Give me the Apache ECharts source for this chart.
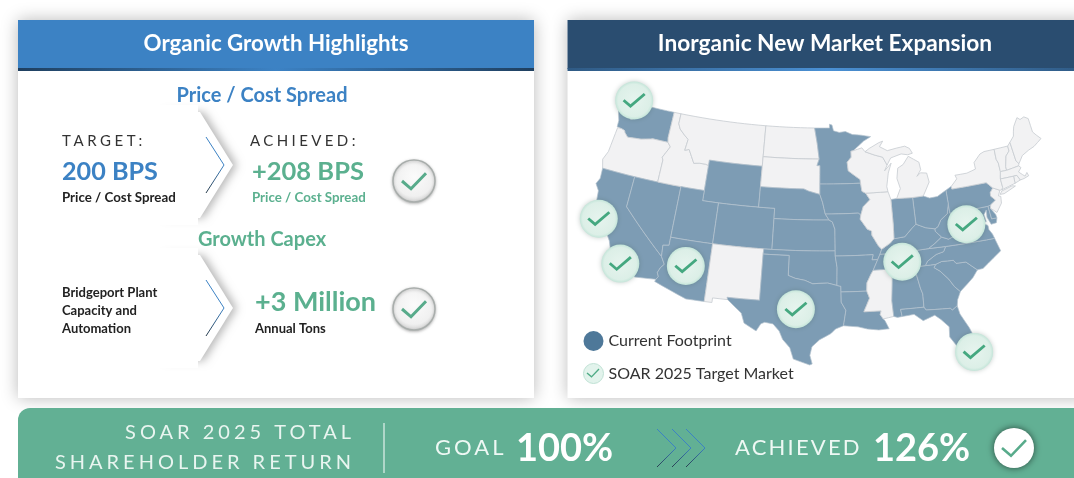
<!DOCTYPE html>
<html>
<head>
<meta charset="utf-8">
<style>html,body{margin:0;padding:0;background:#fff}#main{width:1074px;height:478px}</style>
<script src="https://cdn.jsdelivr.net/npm/echarts@6/dist/echarts.min.js"></script>
</head>
<body>
<div id="main"></div>
<script>
//chart values
var footprintStates=["WA","CA","NV","UT","AZ","CO","WY","NE","KS","OK","TX","MN","IA","MO","AR","LA","AL","GA","FL","SC","NC","TN","KY","VA","WV","MD","DE","PA","OH","IN"];
var targetMarkets=[[-122.9,49.2],[-122.8,37.2],[-119.0,33.5],[-111.7,34.5],[-99.0,31.3],[-86.9,35.6],[-78.8,38.4],[-80.5,26.0]];
var legendNames=["Current Footprint","SOAR 2025 Target Market"];
var organicTexts=["Price / Cost Spread","TARGET:","200 BPS","ACHIEVED:","+208 BPS","Growth Capex","+3 Million","Annual Tons"];
var capexLines=["Bridgeport Plant","Capacity and","Automation"];
var returnTexts=["SOAR 2025 TOTAL","SHAREHOLDER RETURN","GOAL","100%","ACHIEVED","126%"];

//state outlines, lon/lat
var stateRings={
WA:[[[-124.73,48.38],[-123.1,48.17],[-122.75,48.1],[-122.6,47.3],[-122.3,47.4],[-122.4,48.3],[-122.75,49],[-117.03,49],[-117.04,46.42],[-116.92,45.99],[-118.98,46],[-119.3,45.93],[-120.5,45.7],[-121.2,45.65],[-122.3,45.55],[-122.8,45.9],[-122.95,46.1],[-123.4,46.2],[-124.05,46.27],[-124.1,46.9],[-124.6,47.9]]],
OR:[[[-123.95,46.2],[-124.05,46.27],[-123.4,46.2],[-122.95,46.1],[-122.8,45.9],[-122.3,45.55],[-121.2,45.65],[-120.5,45.7],[-119.3,45.93],[-118.98,46],[-116.92,45.99],[-116.47,45.6],[-116.85,45],[-117.2,44.45],[-117.03,44.2],[-117.03,42],[-120,42],[-124.2,42],[-124.55,42.84],[-124.15,43.7],[-124.05,45]]],
CA:[[[-124.2,42],[-120,42],[-120,39],[-114.63,35],[-114.14,34.3],[-114.5,33.9],[-114.72,33.4],[-114.52,33.03],[-114.72,32.72],[-117.12,32.53],[-117.25,32.85],[-117.9,33.6],[-118.4,33.75],[-118.5,34.03],[-119.2,34.15],[-119.6,34.42],[-120.47,34.45],[-120.65,34.9],[-120.9,35.4],[-121.9,36.6],[-122,36.95],[-122.5,37.5],[-122.5,37.8],[-123,38],[-123.7,38.9],[-123.85,39.8],[-124.4,40.4],[-124.1,41]]],
NV:[[[-120,42],[-117.03,42],[-114.04,42],[-114.04,36.2],[-114.74,36.1],[-114.63,35],[-120,39]]],
ID:[[[-117.03,49],[-116.05,49],[-116.05,48],[-115.7,47.5],[-114.95,47],[-114.35,46.65],[-114.5,45.55],[-113.95,45.7],[-113.45,45.05],[-113,44.45],[-112.3,44.55],[-111.5,44.55],[-111.05,44.47],[-111.05,42],[-114.04,42],[-117.03,42],[-117.03,44.2],[-117.2,44.45],[-116.85,45],[-116.47,45.6],[-116.92,45.99],[-117.04,46.42]]],
MT:[[[-116.05,49],[-104.05,49],[-104.05,45.94],[-104.05,45],[-111.05,45],[-111.05,44.47],[-111.5,44.55],[-112.3,44.55],[-113,44.45],[-113.45,45.05],[-113.95,45.7],[-114.5,45.55],[-114.35,46.65],[-114.95,47],[-115.7,47.5],[-116.05,48]]],
WY:[[[-111.05,45],[-104.05,45],[-104.05,43],[-104.05,41],[-111.05,41],[-111.05,42]]],
UT:[[[-114.04,42],[-111.05,42],[-111.05,41],[-109.05,41],[-109.05,37],[-114.04,37]]],
CO:[[[-109.05,41],[-104.05,41],[-102.05,41],[-102.05,40],[-102.05,37],[-103,37],[-109.05,37]]],
AZ:[[[-114.04,37],[-109.05,37],[-109.05,31.33],[-111.07,31.33],[-114.81,32.5],[-114.72,32.72],[-114.52,33.03],[-114.72,33.4],[-114.5,33.9],[-114.14,34.3],[-114.63,35],[-114.74,36.1],[-114.04,36.2]]],
NM:[[[-109.05,37],[-103,37],[-103.04,36.5],[-103.04,32],[-106.62,32],[-106.53,31.78],[-108.2,31.78],[-108.2,31.33],[-109.05,31.33]]],
ND:[[[-104.05,49],[-97.23,49],[-96.85,47.5],[-96.56,45.94],[-104.05,45.94]]],
SD:[[[-104.05,45.94],[-96.56,45.94],[-96.85,45.3],[-96.45,45.3],[-96.45,43.5],[-96.45,42.49],[-97.9,42.8],[-98.5,43],[-104.05,43]]],
NE:[[[-104.05,43],[-98.5,43],[-97.9,42.8],[-96.45,42.49],[-96.1,41.7],[-95.77,40.58],[-95.31,40],[-102.05,40],[-102.05,41],[-104.05,41]]],
KS:[[[-102.05,40],[-95.31,40],[-94.9,39.8],[-94.61,39.1],[-94.62,37],[-100,37],[-102.05,37]]],
OK:[[[-103,37],[-102.05,37],[-94.62,37],[-94.62,36.5],[-94.43,35.4],[-94.48,33.64],[-95.5,33.88],[-96.6,33.85],[-97.2,33.8],[-98.1,34.13],[-99.2,34.3],[-100,34.56],[-100,36.5],[-103.04,36.5]]],
TX:[[[-106.62,32],[-103.04,32],[-103.04,36.5],[-100,36.5],[-100,34.56],[-99.2,34.3],[-98.1,34.13],[-97.2,33.8],[-96.6,33.85],[-95.5,33.88],[-94.48,33.64],[-94.04,33.55],[-94.04,33],[-94.04,32],[-93.55,31.2],[-93.85,29.7],[-94.7,29.4],[-95.2,28.95],[-96.4,28.35],[-97.2,27.65],[-97.4,26.8],[-97.15,25.96],[-97.4,25.85],[-99.1,26.4],[-99.5,27.5],[-100.3,28.3],[-100.7,29.1],[-101.4,29.77],[-102.3,29.88],[-102.7,29.7],[-103.15,28.98],[-104.5,29.65],[-104.9,30.6],[-106.53,31.78]]],
MN:[[[-97.23,49],[-95.15,49],[-95.15,49.38],[-94.8,49.3],[-94.6,48.72],[-93.8,48.55],[-92.95,48.62],[-92,48.3],[-90.8,48.2],[-89.5,48],[-90.5,47.6],[-92,46.7],[-92.29,46.66],[-92.29,46.07],[-92.85,45.6],[-92.75,44.75],[-91.25,43.85],[-91.22,43.5],[-96.45,43.5],[-96.45,45.3],[-96.85,45.3],[-96.56,45.94],[-96.85,47.5]]],
IA:[[[-96.45,43.5],[-91.22,43.5],[-91.1,42.7],[-90.64,42.5],[-90.15,41.85],[-91.05,41.2],[-91.4,40.4],[-91.7,40.6],[-95.77,40.58],[-96.1,41.7],[-96.45,42.49]]],
MO:[[[-95.77,40.58],[-91.7,40.6],[-91.4,40.4],[-91.5,40],[-90.7,39],[-90.2,38.8],[-90.2,38.4],[-89.5,37.3],[-89.15,36.98],[-89.4,36.5],[-89.7,36],[-90.37,36],[-90.2,36.5],[-94.62,36.5],[-94.62,37],[-94.61,39.1],[-94.9,39.8],[-95.31,40]]],
AR:[[[-94.62,36.5],[-90.2,36.5],[-90.37,36],[-89.7,36],[-90.3,35],[-90.6,34.6],[-91.1,33.8],[-91.17,33],[-94.04,33],[-94.04,33.55],[-94.48,33.64],[-94.43,35.4]]],
LA:[[[-94.04,33],[-91.17,33],[-90.9,32.3],[-91.6,31],[-89.73,31],[-89.85,30.65],[-89.55,30.2],[-89.4,30.05],[-89,29.2],[-90.1,29.15],[-91.3,29.3],[-92.3,29.55],[-93.85,29.7],[-93.55,31.2],[-94.04,32]]],
MS:[[[-91.17,33],[-91.1,33.8],[-90.6,34.6],[-90.3,35],[-88.2,35],[-88.1,34.9],[-88.47,31.9],[-88.4,30.37],[-89.55,30.2],[-89.85,30.65],[-89.73,31],[-91.6,31],[-90.9,32.3]]],
AL:[[[-88.2,35],[-85.6,35],[-85.18,32.87],[-85,32.3],[-85.05,31],[-87.6,31],[-87.5,30.3],[-88,30.25],[-88.4,30.37],[-88.47,31.9],[-88.1,34.9]]],
GA:[[[-85.6,35],[-84.32,35],[-83.11,35],[-83.35,34.7],[-82.75,34.3],[-81.9,33.4],[-81.4,32.6],[-80.85,32.05],[-81.3,31.3],[-81.45,30.72],[-82.05,30.37],[-82.2,30.57],[-84.86,30.7],[-85.05,31],[-85,32.3],[-85.18,32.87]]],
FL:[[[-87.6,31],[-85.05,31],[-84.86,30.7],[-82.2,30.57],[-82.05,30.37],[-81.45,30.72],[-81.3,29.9],[-80.55,28.4],[-80.05,26.9],[-80.15,25.75],[-80.4,25.2],[-81.1,25.13],[-81.8,26.1],[-82.2,26.9],[-82.75,27.8],[-82.65,28.8],[-83.4,29.6],[-84,30.1],[-85.3,29.7],[-86.2,30.4],[-87.5,30.3]]],
SC:[[[-83.35,34.7],[-83.11,35],[-82.4,35.2],[-81.05,35.15],[-80.8,34.82],[-79.67,34.8],[-78.55,33.86],[-79.2,33.2],[-79.9,32.7],[-80.85,32.05],[-81.4,32.6],[-81.9,33.4],[-82.75,34.3]]],
NC:[[[-84.32,35],[-84,35.4],[-82.9,35.95],[-82,36.12],[-81.68,36.59],[-75.87,36.55],[-75.5,35.25],[-76.5,34.7],[-77.9,33.9],[-78.55,33.86],[-79.67,34.8],[-80.8,34.82],[-81.05,35.15],[-82.4,35.2],[-83.11,35]]],
TN:[[[-90.3,35],[-88.2,35],[-85.6,35],[-84.32,35],[-84,35.4],[-82.9,35.95],[-82,36.12],[-81.68,36.59],[-83.68,36.6],[-88.07,36.5],[-89.4,36.5],[-89.7,36]]],
KY:[[[-89.4,36.5],[-88.07,36.5],[-83.68,36.6],[-82.9,37],[-81.97,37.54],[-82.6,38.17],[-82.6,38.42],[-83.7,38.65],[-84.8,39.1],[-85.4,38.7],[-86.3,38],[-87.6,37.9],[-88.1,37.5],[-89.15,36.98]]],
VA:[[[-83.68,36.6],[-81.68,36.59],[-75.87,36.55],[-76,37],[-76.3,37.5],[-76.3,37.9],[-77,38.3],[-77.05,38.8],[-77.5,39.1],[-77.83,39.13],[-78.35,39.4],[-78.87,38.76],[-79.65,38.58],[-80.3,37.5],[-81.2,37.25],[-81.97,37.54],[-82.9,37]]],
WV:[[[-81.97,37.54],[-81.2,37.25],[-80.3,37.5],[-79.65,38.58],[-78.87,38.76],[-78.35,39.4],[-77.83,39.13],[-77.72,39.32],[-78.4,39.62],[-79.05,39.47],[-79.48,39.2],[-79.48,39.72],[-80.52,39.72],[-80.52,40.64],[-80.85,39.7],[-81.75,39.2],[-82.2,38.6],[-82.6,38.42],[-82.6,38.17]]],
MD:[[[-79.48,39.72],[-75.79,39.72],[-75.7,38.46],[-75.05,38.45],[-75.25,38],[-75.9,37.95],[-76.2,38.7],[-76.1,39.4],[-76.5,39],[-76.4,38.3],[-77,38.3],[-77.05,38.8],[-77.5,39.1],[-77.72,39.32],[-78.4,39.62],[-79.05,39.47],[-79.48,39.2]]],
DE:[[[-75.79,39.72],[-75.42,39.8],[-75.55,39.45],[-75.1,38.8],[-75.05,38.45],[-75.7,38.46]]],
PA:[[[-80.52,41.98],[-79.76,42.27],[-79.76,42],[-75.35,42],[-74.7,41.36],[-75.13,40.98],[-75.2,40.65],[-74.72,40.15],[-75.42,39.8],[-75.79,39.72],[-79.48,39.72],[-80.52,39.72],[-80.52,40.64]]],
NJ:[[[-74.7,41.36],[-73.9,41],[-74.25,40.5],[-73.98,40.4],[-74.1,39.75],[-74.9,38.95],[-75.55,39.5],[-75.42,39.8],[-74.72,40.15],[-75.2,40.65],[-75.13,40.98]]],
NY:[[[-79.76,42],[-79.76,42.27],[-78.9,42.9],[-79.05,43.27],[-77.5,43.27],[-76.3,43.5],[-76.3,44.15],[-75.3,44.85],[-74.7,45],[-73.34,45],[-73.4,44],[-73.25,43.6],[-73.27,42.75],[-73.5,42.05],[-73.48,41.2],[-73.65,41],[-73.9,41],[-74.7,41.36],[-75.35,42]],[[-74,40.6],[-73.7,40.88],[-72.3,41.15],[-71.9,41.05],[-73.5,40.58]]],
VT:[[[-73.34,45],[-71.5,45],[-71.5,44.5],[-72.05,44.1],[-72.45,43.1],[-72.46,42.73],[-73.27,42.75],[-73.25,43.6],[-73.4,44]]],
NH:[[[-71.5,45],[-71.08,45.3],[-70.98,43.4],[-70.7,43.07],[-70.82,42.87],[-72.46,42.73],[-72.45,43.1],[-72.05,44.1],[-71.5,44.5]]],
ME:[[[-71.08,45.3],[-70.4,45.8],[-70.25,46.2],[-70,46.7],[-69.23,47.46],[-68.9,47.2],[-68.3,47.35],[-67.8,47.07],[-67.8,45.7],[-67.45,45.3],[-67,44.85],[-68.2,44.3],[-69,44.1],[-70,43.75],[-70.7,43.07],[-70.98,43.4]]],
MA:[[[-73.5,42.05],[-73.27,42.75],[-72.46,42.73],[-70.82,42.87],[-70.6,42.65],[-71.05,42.3],[-70.65,41.95],[-70.4,41.75],[-70.05,42.05],[-69.95,41.7],[-70.6,41.55],[-71.12,41.5],[-71.38,42.02],[-71.8,42.02]]],
RI:[[[-71.8,42.02],[-71.38,42.02],[-71.12,41.5],[-71.85,41.32]]],
CT:[[[-73.5,42.05],[-71.8,42.02],[-71.85,41.32],[-73.65,41],[-73.48,41.2]]],
OH:[[[-84.8,41.7],[-83.45,41.73],[-82.7,41.45],[-81.7,41.5],[-80.52,41.98],[-80.52,40.64],[-80.85,39.7],[-81.75,39.2],[-82.2,38.6],[-82.6,38.42],[-83.7,38.65],[-84.8,39.1]]],
IN:[[[-87.53,41.72],[-86.8,41.76],[-84.8,41.7],[-84.8,39.1],[-85.4,38.7],[-86.3,38],[-87.6,37.9],[-87.53,39.3]]],
IL:[[[-90.64,42.5],[-87.8,42.5],[-87.53,41.72],[-87.53,39.3],[-87.6,37.9],[-88.1,37.5],[-89.15,36.98],[-89.5,37.3],[-90.2,38.4],[-90.2,38.8],[-90.7,39],[-91.5,40],[-91.4,40.4],[-91.05,41.2],[-90.15,41.85]]],
WI:[[[-92.29,46.66],[-92,46.7],[-90.8,46.95],[-90.4,46.55],[-89.1,46.15],[-88.1,45.9],[-87.6,45.1],[-88,44.55],[-87.05,45.25],[-87.55,44.3],[-87.9,43],[-87.8,42.5],[-90.64,42.5],[-91.1,42.7],[-91.22,43.5],[-91.25,43.85],[-92.75,44.75],[-92.85,45.6],[-92.29,46.07]]],
MI:[[[-90.4,46.55],[-89.8,46.85],[-88.45,47.35],[-87.9,47.47],[-88.4,46.95],[-87.4,46.5],[-86.1,46.67],[-85,46.77],[-84.4,46.5],[-84.1,46],[-84.75,45.9],[-85.6,46.05],[-86.6,45.85],[-87.05,45.75],[-87.6,45.1],[-88.1,45.9],[-89.1,46.15]],[[-84.8,41.7],[-83.45,41.73],[-83.15,42.1],[-82.45,43],[-82.6,43.9],[-83.4,44],[-83.9,43.7],[-83.3,44.3],[-83.4,45.05],[-84.7,45.75],[-85.5,45],[-86.25,44.7],[-86.5,43.7],[-86.2,42.7],[-86.8,41.76]]]
};

//long borders follow the curve of the projection, so add points along them
function densify(ring){
    var out=[];
    for(var i=0;i<ring.length;i++){
        var a=ring[i],b=ring[(i+1)%ring.length];
        var steps=Math.max(Math.ceil(Math.max(Math.abs(b[0]-a[0]),Math.abs(b[1]-a[1]))),1);
        for(var s=0;s<steps;s++){
            out.push([a[0]+(b[0]-a[0])*s/steps,a[1]+(b[1]-a[1])*s/steps]);
        }
    }
    out.push(out[0]);
    return out;
}
var usaGeo={type:"FeatureCollection",features:Object.keys(stateRings).map(function(name){
    return {type:"Feature",properties:{name:name},geometry:{type:"MultiPolygon",coordinates:stateRings[name].map(function(r){return [densify(r)];})}};
})};
echarts.registerMap("usa",usaGeo);

//albers conic
var rad=Math.PI/180,lon0=-96,n=(Math.sin(29.5*rad)+Math.sin(45.5*rad))/2;
var C=Math.pow(Math.cos(29.5*rad),2)+2*n*Math.sin(29.5*rad);
var rho0=Math.sqrt(C-2*n*Math.sin(37.5*rad))/n;
function project(p){
    var rho=Math.sqrt(C-2*n*Math.sin(p[1]*rad))/n,t=n*(p[0]-lon0)*rad;
    return [rho*Math.sin(t),rho*Math.cos(t)-rho0];
}
function unproject(p){
    var rho=Math.sqrt(p[0]*p[0]+(rho0+p[1])*(rho0+p[1])),t=Math.atan2(p[0],rho0+p[1]);
    return [lon0+t/n/rad,Math.asin((C-rho*rho*n*n)/(2*n))/rad];
}

//letter spaced labels (canvas only)
var spaced={"TARGET:":"3.6px","ACHIEVED:":"3.4px","SOAR 2025 TOTAL":"4px","SHAREHOLDER RETURN":"4px","GOAL":"3px","ACHIEVED":"2.2px"};
var rawFillText=CanvasRenderingContext2D.prototype.fillText;
CanvasRenderingContext2D.prototype.fillText=function(t,x,y,w){
    this.letterSpacing=spaced[t]||"0px";
    if(w===undefined){rawFillText.call(this,t,x,y);}else{rawFillText.call(this,t,x,y,w);}
};

var BLUE="#3c82c4",GREEN="#5bb08f",DARK="#2a4d70",BAR="#62b094",INK="#222222";
function txt(s,x,y,size,color,bold,align){
    return {type:"text",x:x,y:y+1.5,z:20,style:{text:s,fill:color,font:(bold?"bold ":"")+size+"px Lato",align:align||"left",verticalAlign:"middle",textAlign:align||"left",textVerticalAlign:"middle"}};
}
function hgrad(a,b){
    return {type:"linear",x:0,y:0,x2:1,y2:0,colorStops:[{offset:0,color:a},{offset:0.5,color:b},{offset:1,color:a}]};
}
function panel(x,w,head,strip,stripMid){
    return [
        {type:"rect",z:1,shape:{x:x,y:20,width:w,height:378},style:{fill:"#fff",shadowBlur:16,shadowColor:"rgba(0,0,0,0.28)"}},
        {type:"rect",z:2,shape:{x:x,y:20,width:w,height:49},style:{fill:head}},
        {type:"rect",z:2,shape:{x:x,y:68,width:w,height:3},style:{fill:hgrad(strip,stripMid)}}
    ];
}
function arrowShape(y){
    return [
        {type:"polygon",z:3,shape:{points:[[163,y-53],[200,y-53],[233,y],[200,y+53],[163,y+53]]},style:{fill:"#fff",shadowBlur:9,shadowOffsetX:4,shadowColor:"rgba(0,0,0,0.28)"}},
        //only the slanted sides keep a shadow
        {type:"rect",z:4,shape:{x:150,y:y-60,width:48,height:120},style:{fill:"#fff"}}
    ];
}
function chevron(x,y,w,h){
    return {type:"polyline",z:15,shape:{points:[[x,y-h],[x+w,y],[x,y+h]]},style:{fill:null,lineWidth:1,stroke:{type:"linear",x:0,y:0,x2:0,y2:1,colorStops:[{offset:0,color:"#3c82c4"},{offset:0.5,color:"#3c82c4"},{offset:1,color:"#26343f"}]}}};
}
function checkMark(x,y,s,color,w){
    return {type:"polyline",z:25,shape:{points:[[x-s,y],[x-s*0.25,y+s*0.65],[x+s,y-s*0.65]]},style:{fill:null,stroke:color,lineWidth:w}};
}
function badge(x,y){
    return [
        {type:"circle",z:16,shape:{cx:x,cy:y,r:21},style:{fill:{type:"radial",x:0.5,y:0.4,r:0.6,colorStops:[{offset:0,color:"#fbfbfb"},{offset:0.75,color:"#f0f0f0"},{offset:1,color:"#d2d2d2"}]},stroke:"#a9aeac",lineWidth:1.5,shadowBlur:3,shadowOffsetY:1,shadowColor:"rgba(0,0,0,0.25)"}},
        checkMark(x,y,12,"#58ab8b",3)
    ];
}

var graphicEls=[].concat(
    panel(18,516,BLUE,"#1f3f5f","#3c82c4"),
    panel(567.5,520,DARK,"#2f5a84","#4a90d4"),
    arrowShape(165),arrowShape(308),
    [
        {type:"rect",z:3,shape:{x:18,y:408,width:1070,height:90,r:12},style:{fill:BAR}},
        chevron(206,165,18,28),chevron(206,308,18,28),
        txt("Organic Growth Highlights",276,42,22.3,"#fff",true,"center"),
        txt("Inorganic New Market Expansion",825,42,22.7,"#fff",true,"center"),
        txt(organicTexts[0],262,94,20,BLUE,true,"center"),
        txt(organicTexts[1],62,140,15,"#333",false),
        txt(organicTexts[2],62,170,25.2,BLUE,true),
        txt(organicTexts[0],62,196,13.3,INK,true),
        txt(organicTexts[3],250,140,15,"#333",false),
        txt(organicTexts[4],252,170,25.5,GREEN,true),
        txt(organicTexts[0],252,196,13.3,GREEN,true),
        txt(organicTexts[5],262,238,20,GREEN,true,"center"),
        txt(capexLines[0],62,291,13,INK,true),
        txt(capexLines[1],62,309,13,INK,true),
        txt(capexLines[2],62,327,13,INK,true),
        txt(organicTexts[6],255,301,27,GREEN,true),
        txt(organicTexts[7],255,327,13,INK,true),
        txt(returnTexts[0],355,431,20,"#e9f5f0",false,"right"),
        txt(returnTexts[1],355,461,20,"#e9f5f0",false,"right"),
        {type:"line",z:15,shape:{x1:384,y1:423,x2:384,y2:473},style:{stroke:"#e3f2ec",lineWidth:1.2}},
        txt(returnTexts[2],435,446,22,"#eef8f4",false),
        txt(returnTexts[3],516,447,38,"#fff",true),
        chevron(657,448,19,19),chevron(672,448,19,19),chevron(686,448,19,19),
        txt(returnTexts[4],735,446,22,"#eef8f4",false),
        txt(returnTexts[5],873,447,38,"#fff",true),
        {type:"circle",z:16,shape:{cx:1014,cy:448,r:20},style:{fill:"#fff",shadowBlur:7,shadowColor:"rgba(0,0,0,0.6)"}},
        checkMark(1014,448,12,"#58ab8b",2.6),
        checkMark(593,373,6,"#4fab86",1.4)
    ],
    badge(414,181),badge(414,309)
);

var mychart=echarts.init(document.getElementById("main"));
var option={
    animation:false,
    textStyle:{fontFamily:"Lato"},
    graphic:{elements:graphicEls},
    legend:{
        orient:"vertical",left:583,top:331,padding:0,itemWidth:20,itemHeight:20,itemGap:12,selectedMode:false,z:10,
        textStyle:{color:"#333",fontSize:16,fontFamily:"Lato"},
        data:[
            {name:legendNames[0],icon:"circle",itemStyle:{color:"#4e7899",opacity:1}},
            {name:legendNames[1],icon:"circle",itemStyle:{color:"#e2f3ec",borderColor:"#c0e2d5",borderWidth:1,opacity:1}}
        ]
    },
    geo:{
        map:"usa",z:5,silent:true,
        projection:{project:project,unproject:unproject},
        left:596,top:102.7,width:445,height:262.3,
        label:{show:false},
        itemStyle:{areaColor:"#f2f2f3",borderColor:"#c6cbd0",borderWidth:0.8},
        regions:footprintStates.map(function(s){return {name:s,itemStyle:{areaColor:"#7d9cb4",borderColor:"#b4c3cf",borderWidth:0.7}};})
    },
    series:[
        {name:legendNames[0],type:"scatter",coordinateSystem:"geo",data:[]},
        {name:legendNames[1],type:"scatter",coordinateSystem:"geo",z:6,silent:true,data:targetMarkets,symbol:"circle",symbolSize:38,
            itemStyle:{opacity:1,color:{type:"radial",x:0.5,y:0.5,r:0.5,colorStops:[{offset:0,color:"#e6f4ee"},{offset:0.85,color:"#dcefe7"},{offset:1,color:"#c4e5d9"}]},shadowBlur:5,shadowColor:"rgba(60,90,80,0.3)"}},
        {name:"checks",type:"scatter",coordinateSystem:"geo",z:7,silent:true,data:targetMarkets,
            symbol:"path://M1 10 L2.8 8 L8.5 13 L21.2 2 L23 4 L8.5 16.5 Z",symbolSize:[23,15],
            itemStyle:{opacity:1,color:"#45a880"}}
    ]
};
mychart.setOption(option);
</script>
</body>
</html>
